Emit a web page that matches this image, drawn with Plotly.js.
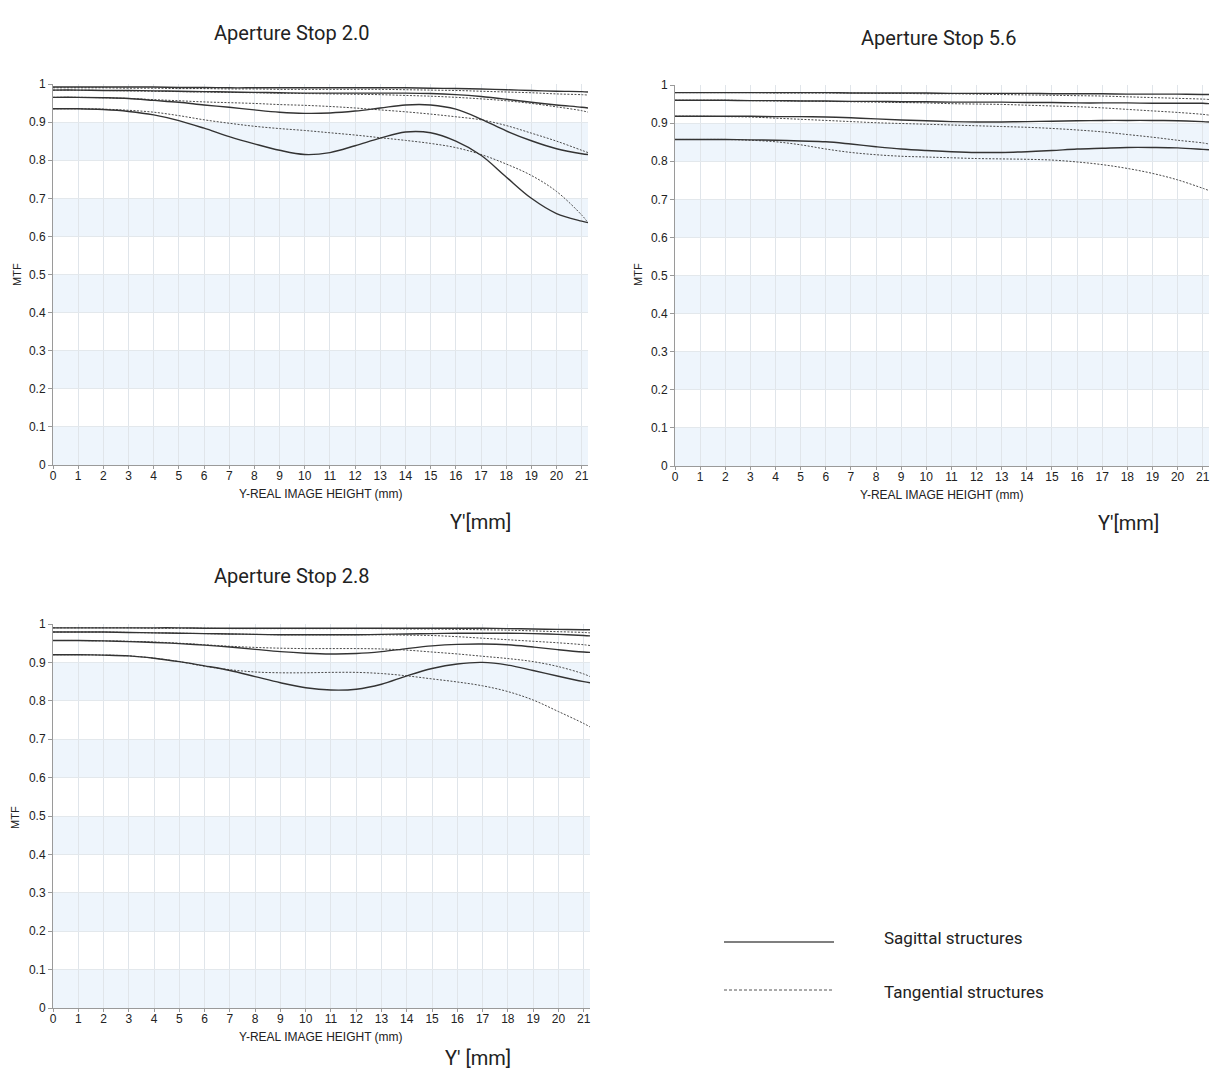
<!DOCTYPE html>
<html><head><meta charset="utf-8">
<script src="https://cdn.plot.ly/plotly-3.0.1.min.js"></script>
<style>html,body{margin:0;padding:0;background:#fff}#chart{width:1229px;height:1080px}</style>
</head><body><div id="chart"></div>
<script>
// ---- data ----
const imageHeight = [0,1,2,3,4,5,6,7,8,9,10,11,12,13,14,15,16,17,18,19,20,21,21.25];
const xTickVals = [0,1,2,3,4,5,6,7,8,9,10,11,12,13,14,15,16,17,18,19,20,21];
const yTickVals = [0,0.1,0.2,0.3,0.4,0.5,0.6,0.7,0.8,0.9,1];
const bandStarts = [0,0.2,0.4,0.6,0.8];
const chartTitles = ["Aperture Stop 2.0","Aperture Stop 5.6","Aperture Stop 2.8"];
const unitLabels = ["Y'[mm]","Y'[mm]","Y' [mm]"];
const xAxisTitle = "Y-REAL IMAGE HEIGHT (mm)";
const yAxisTitle = "MTF";
const legendNames = ["Sagittal structures","Tangential structures"];

// Aperture 2.0
const f20_sag1 = [0.992,0.992,0.992,0.992,0.992,0.991,0.991,0.990,0.990,0.990,0.990,0.990,0.990,0.990,0.990,0.989,0.988,0.987,0.985,0.983,0.981,0.980,0.979];
const f20_tan1 = [0.990,0.990,0.990,0.989,0.989,0.988,0.988,0.987,0.987,0.986,0.986,0.986,0.986,0.986,0.985,0.984,0.983,0.981,0.979,0.977,0.974,0.972,0.971];
const f20_sag2 = [0.984,0.984,0.983,0.983,0.982,0.981,0.980,0.979,0.978,0.977,0.976,0.976,0.976,0.976,0.976,0.975,0.972,0.967,0.960,0.952,0.945,0.939,0.937];
const f20_tan2 = [0.984,0.984,0.983,0.982,0.981,0.980,0.979,0.978,0.977,0.976,0.975,0.974,0.973,0.972,0.970,0.968,0.965,0.961,0.956,0.949,0.940,0.930,0.926];
const f20_sag3 = [0.965,0.965,0.964,0.962,0.957,0.952,0.945,0.939,0.932,0.926,0.923,0.924,0.929,0.937,0.945,0.945,0.934,0.908,0.877,0.851,0.830,0.817,0.815];
const f20_tan3 = [0.965,0.965,0.964,0.962,0.959,0.956,0.953,0.951,0.949,0.946,0.944,0.941,0.937,0.932,0.927,0.921,0.914,0.906,0.891,0.871,0.850,0.826,0.820];
const f20_sag4 = [0.935,0.935,0.933,0.928,0.919,0.904,0.884,0.862,0.843,0.826,0.815,0.820,0.838,0.858,0.874,0.872,0.850,0.813,0.756,0.700,0.660,0.640,0.636];
const f20_tan4 = [0.935,0.935,0.934,0.931,0.926,0.917,0.906,0.897,0.889,0.883,0.878,0.872,0.866,0.859,0.852,0.844,0.833,0.815,0.790,0.760,0.718,0.656,0.636];

// Aperture 5.6
const f56_sag1 = [0.980,0.980,0.980,0.980,0.980,0.980,0.980,0.979,0.979,0.979,0.979,0.978,0.978,0.978,0.978,0.977,0.977,0.977,0.976,0.976,0.976,0.975,0.975];
const f56_tan1 = [0.980,0.980,0.980,0.980,0.979,0.979,0.979,0.979,0.978,0.978,0.977,0.977,0.976,0.975,0.974,0.973,0.972,0.971,0.969,0.967,0.965,0.963,0.962];
const f56_sag2 = [0.960,0.960,0.960,0.959,0.959,0.958,0.958,0.957,0.957,0.956,0.956,0.955,0.955,0.955,0.954,0.954,0.953,0.953,0.953,0.952,0.952,0.952,0.951];
const f56_tan2 = [0.960,0.960,0.960,0.959,0.958,0.958,0.957,0.956,0.955,0.954,0.953,0.951,0.950,0.949,0.947,0.945,0.943,0.940,0.936,0.932,0.928,0.923,0.921];
const f56_sag3 = [0.918,0.918,0.918,0.918,0.917,0.917,0.916,0.914,0.911,0.908,0.906,0.904,0.903,0.903,0.904,0.905,0.906,0.907,0.907,0.907,0.906,0.904,0.903];
const f56_tan3 = [0.918,0.918,0.917,0.916,0.913,0.910,0.907,0.904,0.901,0.899,0.897,0.895,0.893,0.891,0.889,0.886,0.882,0.877,0.870,0.863,0.855,0.848,0.845];
const f56_sag4 = [0.857,0.857,0.857,0.856,0.855,0.853,0.851,0.845,0.838,0.832,0.828,0.825,0.823,0.823,0.825,0.828,0.832,0.834,0.836,0.836,0.835,0.831,0.830];
const f56_tan4 = [0.857,0.857,0.857,0.855,0.851,0.843,0.832,0.823,0.817,0.813,0.811,0.809,0.807,0.806,0.805,0.803,0.798,0.791,0.781,0.768,0.751,0.729,0.723];

// Aperture 2.8
const f28_sag1 = [0.990,0.990,0.990,0.990,0.990,0.990,0.989,0.989,0.989,0.989,0.989,0.989,0.989,0.989,0.989,0.989,0.989,0.989,0.988,0.987,0.986,0.985,0.985];
const f28_tan1 = [0.990,0.990,0.990,0.990,0.989,0.989,0.989,0.988,0.988,0.988,0.988,0.988,0.988,0.988,0.987,0.987,0.986,0.985,0.984,0.982,0.980,0.978,0.977];
const f28_sag2 = [0.979,0.979,0.979,0.978,0.977,0.976,0.975,0.974,0.973,0.972,0.972,0.972,0.972,0.973,0.974,0.975,0.976,0.976,0.976,0.975,0.973,0.970,0.969];
const f28_tan2 = [0.979,0.979,0.979,0.978,0.977,0.976,0.975,0.974,0.973,0.972,0.972,0.972,0.972,0.972,0.971,0.970,0.967,0.963,0.959,0.955,0.951,0.946,0.944];
const f28_sag3 = [0.957,0.957,0.956,0.954,0.952,0.949,0.945,0.940,0.934,0.928,0.924,0.922,0.923,0.928,0.936,0.943,0.947,0.948,0.946,0.940,0.933,0.927,0.926];
const f28_tan3 = [0.957,0.957,0.956,0.955,0.953,0.950,0.946,0.942,0.939,0.937,0.936,0.936,0.936,0.935,0.932,0.927,0.922,0.916,0.910,0.902,0.889,0.870,0.863];
const f28_sag4 = [0.920,0.920,0.919,0.917,0.911,0.902,0.891,0.879,0.863,0.847,0.834,0.828,0.830,0.843,0.865,0.884,0.896,0.900,0.893,0.879,0.864,0.850,0.847];
const f28_tan4 = [0.920,0.920,0.919,0.917,0.911,0.902,0.890,0.881,0.875,0.873,0.873,0.874,0.874,0.871,0.865,0.857,0.849,0.839,0.824,0.802,0.772,0.741,0.732];

// ---- build ----
const charts = [
  {sag:[f20_sag1,f20_sag2,f20_sag3,f20_sag4], tan:[f20_tan1,f20_tan2,f20_tan3,f20_tan4], xa:'x',  ya:'y'},
  {sag:[f56_sag1,f56_sag2,f56_sag3,f56_sag4], tan:[f56_tan1,f56_tan2,f56_tan3,f56_tan4], xa:'x2', ya:'y2'},
  {sag:[f28_sag1,f28_sag2,f28_sag3,f28_sag4], tan:[f28_tan1,f28_tan2,f28_tan3,f28_tan4], xa:'x3', ya:'y3'}
];
const W = 1229, H = 1080;
const px = v => v / W;
const py = v => 1 - v / H;

const traces = [];
charts.forEach(c => {
  c.tan.forEach(arr => traces.push({
    x: imageHeight, y: arr, xaxis: c.xa, yaxis: c.ya, type: 'scatter', mode: 'lines',
    name: legendNames[1], showlegend: false, hoverinfo: 'skip',
    line: {color: '#4a4a4a', width: 1, dash: '2px,1.5px', shape: 'spline', smoothing: 1}
  }));
  c.sag.forEach(arr => traces.push({
    x: imageHeight, y: arr, xaxis: c.xa, yaxis: c.ya, type: 'scatter', mode: 'lines',
    name: legendNames[0], showlegend: false, hoverinfo: 'skip',
    line: {color: '#333333', width: 1.4, shape: 'spline', smoothing: 1}
  }));
});

const tickFont = {family: 'Liberation Sans, Arial, sans-serif', size: 12, color: '#222'};
function xAxis(domain, anchor) {
  return {
    domain: domain, anchor: anchor, range: [0, imageHeight[imageHeight.length-1]],
    tickvals: xTickVals, ticktext: xTickVals.map(String),
    showgrid: true, gridcolor: '#e0e5ea', gridwidth: 1, zeroline: false,
    showline: true, linecolor: '#9a9a9a', linewidth: 1,
    ticks: 'outside', ticklen: 3, tickcolor: '#9a9a9a', tickfont: tickFont,
    ticklabelstandoff: -3
  };
}
function yAxis(domain, anchor) {
  return {
    domain: domain, anchor: anchor, range: [0, 1],
    tickvals: yTickVals, ticktext: yTickVals.map(v => String(Math.round(v*10)/10)),
    showgrid: true, gridcolor: '#e3e8ec', gridwidth: 1, zeroline: false,
    showline: true, linecolor: '#9a9a9a', linewidth: 1,
    ticks: 'outside', ticklen: 4, tickcolor: '#9a9a9a', tickfont: tickFont
  };
}

const layout = {
  width: W, height: H, margin: {l:0, r:0, t:0, b:0},
  paper_bgcolor: '#fff', plot_bgcolor: '#fff', showlegend: false,
  xaxis:  xAxis([px(53), px(588)], 'y'),
  yaxis:  yAxis([py(465), py(84)], 'x'),
  xaxis2: xAxis([px(675), px(1209)], 'y2'),
  yaxis2: yAxis([py(466), py(85)], 'x2'),
  xaxis3: xAxis([px(53), px(590)], 'y3'),
  yaxis3: yAxis([py(1008), py(624)], 'x3'),
  shapes: [], annotations: []
};

['x','x2','x3'].forEach((xa,k) => {
  const ya = ['y','y2','y3'][k];
  bandStarts.forEach(b => layout.shapes.push({
    type: 'rect', xref: xa + ' domain', yref: ya, x0: 0, x1: 1, y0: b, y1: b + 0.1,
    fillcolor: '#eef5fc', line: {width: 0}, layer: 'below'
  }));
});

const titleFont = {family: 'Roboto, Open Sans, sans-serif', size: 20, color: '#222'};
const titlePos = [[291, 33], [938, 38], [291, 576]];
chartTitles.forEach((t,i) => layout.annotations.push({
  text: t, xref: 'paper', yref: 'paper', x: px(titlePos[i][0]), y: py(titlePos[i][1]),
  xanchor: 'center', yanchor: 'middle', showarrow: false, font: titleFont
}));
const unitPos = [[480, 522], [1128, 523], [478, 1058]];
unitLabels.forEach((t,i) => layout.annotations.push({
  text: t, xref: 'paper', yref: 'paper', x: px(unitPos[i][0]), y: py(unitPos[i][1]),
  xanchor: 'center', yanchor: 'middle', showarrow: false, font: titleFont
}));

// axis titles
const axFont = {family: 'Liberation Sans, Arial, sans-serif', size: 12, color: '#222'};
const xTitlePos = [[321, 494], [942, 495], [321, 1037]];
xTitlePos.forEach(p => layout.annotations.push({
  text: xAxisTitle, xref: 'paper', yref: 'paper', x: px(p[0]), y: py(p[1]),
  xanchor: 'center', yanchor: 'middle', showarrow: false, font: axFont
}));
const yTitlePos = [[17, 275], [638, 275], [15, 818]];
yTitlePos.forEach(p => layout.annotations.push({
  text: yAxisTitle, xref: 'paper', yref: 'paper', x: px(p[0]), y: py(p[1]),
  xanchor: 'center', yanchor: 'middle', showarrow: false, textangle: -90,
  font: {family: 'Liberation Sans, Arial, sans-serif', size: 11, color: '#222'}
}));

// legend
layout.shapes.push({type:'line', xref:'paper', yref:'paper', x0:px(724), x1:px(834), y0:py(942), y1:py(942), line:{color:'#555', width:1.3}});
layout.shapes.push({type:'line', xref:'paper', yref:'paper', x0:px(724), x1:px(834), y0:py(990), y1:py(990), line:{color:'#555', width:1, dash:'3px,2px'}});
const legFont = {family: 'Roboto, Open Sans, sans-serif', size: 17, color: '#222'};
layout.annotations.push({text: legendNames[0], xref:'paper', yref:'paper', x:px(882), y:py(938), xanchor:'left', yanchor:'middle', showarrow:false, font: legFont});
layout.annotations.push({text: legendNames[1], xref:'paper', yref:'paper', x:px(882), y:py(992), xanchor:'left', yanchor:'middle', showarrow:false, font: legFont});

Plotly.newPlot('chart', traces, layout, {displayModeBar: false, staticPlot: true});
</script>
</body></html>
